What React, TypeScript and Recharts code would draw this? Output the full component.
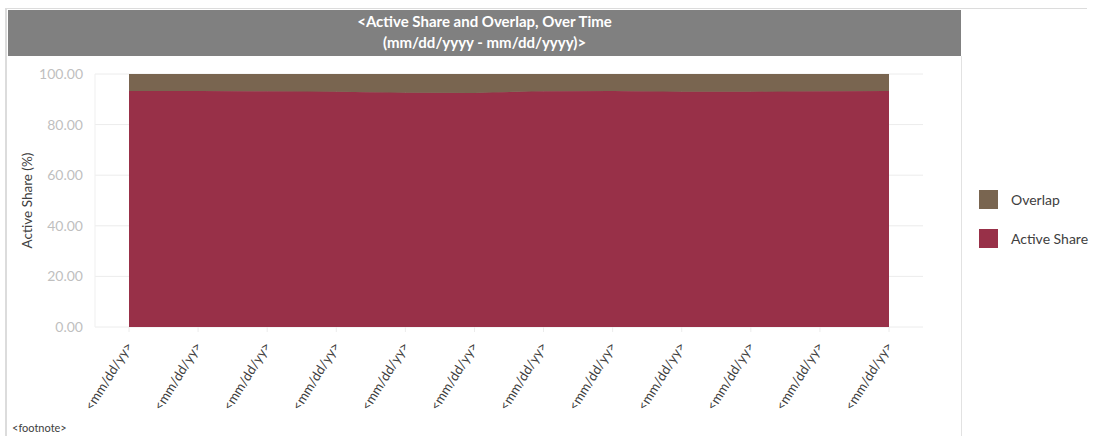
import { AreaChart, Area, XAxis, YAxis, CartesianGrid, Legend } from 'recharts'

const dates = ['<mm/dd/yy>', '<mm/dd/yy>', '<mm/dd/yy>', '<mm/dd/yy>', '<mm/dd/yy>', '<mm/dd/yy>',
  '<mm/dd/yy>', '<mm/dd/yy>', '<mm/dd/yy>', '<mm/dd/yy>', '<mm/dd/yy>', '<mm/dd/yy>']
const activeShare = [93.3, 93.3, 93.2, 93.0, 92.6, 92.5, 93.2, 93.3, 93.0, 93.0, 93.2, 93.3]
const overlap = [6.7, 6.7, 6.8, 7.0, 7.4, 7.5, 6.8, 6.7, 7.0, 7.0, 6.8, 6.7]
const yTicks = [0, 20, 40, 60, 80, 100]

const FONT = 'Lato, "Open Sans", sans-serif'
const RED = '#983048'
const BROWN = '#796550'

const data = dates.map((d, i) => ({ id: i, date: d, active: activeShare[i], overlap: overlap[i] }))

const DateTick = ({ x, y, payload }: any) => (
  <text transform={`translate(${x + 4},${y + 12}) rotate(-58)`} textAnchor="end"
    fontSize={13.3} fontFamily={FONT} fill="#404040">
    {dates[payload.value] ?? payload.value}
  </text>
)

const LegendBox = ({ payload }: any) => {
  const items = [...(payload ?? [])].reverse()
  return (
    <div style={{ fontFamily: FONT, fontSize: 14, color: '#404040' }}>
      {items.map((it: any) => (
        <div key={it.value} style={{ display: 'flex', alignItems: 'center', height: 19, marginBottom: 20 }}>
          <span style={{ width: 19, height: 19, background: it.color, display: 'inline-block', marginRight: 13 }} />
          {it.value}
        </div>
      ))}
    </div>
  )
}

export default function App() {
  return (
    <div style={{ position: 'absolute', left: 0, top: 0, width: 1093, height: 436, background: '#fff', overflow: 'hidden' }}>
      <div style={{ position: 'absolute', left: 5, top: 8, width: 1082, height: 1, background: '#dcdcdc' }} />
      <div style={{ position: 'absolute', left: 5, top: 8, width: 2, height: 428, background: '#dcdcdc' }} />
      <div style={{ position: 'absolute', left: 961, top: 56, width: 1, height: 380, background: '#e2e2e2' }} />
      <div style={{
        position: 'absolute', left: 8, top: 10, width: 953, height: 46, background: '#808080',
        color: '#fff', fontFamily: FONT, fontWeight: 700, fontSize: 15, lineHeight: '21px',
        textAlign: 'center', paddingTop: 1, boxSizing: 'border-box',
      }}>
        {'<Active Share and Overlap, Over Time'}<br />{'(mm/dd/yyyy - mm/dd/yyyy)>'}
      </div>
      <div style={{ position: 'absolute', left: 12, top: 421, fontFamily: FONT, fontSize: 11, color: '#404040' }}>
        {'<footnote>'}
      </div>
      <div style={{ position: 'absolute', left: 0, top: 0 }}>
        <AreaChart width={1093} height={436} data={data} margin={{ top: 74, right: 170, bottom: 9, left: 35 }}>
          <CartesianGrid stroke="#ececec" vertical={false} />
          <XAxis dataKey="id" type="category" padding={{ left: 34, right: 34 }} height={100}
            axisLine={false} tickLine={{ stroke: '#ececec' }} tickSize={5} interval={0} tick={<DateTick />} />
          <YAxis domain={[0, 100]} ticks={yTicks} width={60} tickFormatter={(v: number) => v.toFixed(2)}
            axisLine={{ stroke: '#efefef' }} tickLine={false} tickSize={0} tickMargin={12}
            tick={{ fill: '#bfbfbf', fontSize: 14, fontFamily: FONT }}
            label={{ value: 'Active Share (%)', angle: -90, position: 'insideLeft', dx: -13,
              style: { textAnchor: 'middle', fill: '#404040', fontSize: 13.5, fontFamily: FONT } }} />
          <YAxis yAxisId="r" orientation="right" width={0} domain={[0, 100]} tick={false} tickLine={false}
            axisLine={{ stroke: '#efefef' }} />
          <Legend layout="vertical" verticalAlign="middle" align="center" content={<LegendBox />}
            wrapperStyle={{ position: 'absolute', left: 979, top: 190, width: 114 }} />
          <Area type="linear" dataKey="active" name="Active Share" stackId="1" stroke={RED} strokeWidth={1}
            fill={RED} fillOpacity={1} isAnimationActive={false} />
          <Area type="linear" dataKey="overlap" name="Overlap" stackId="1" stroke="none"
            fill={BROWN} fillOpacity={1} isAnimationActive={false} />
        </AreaChart>
      </div>
    </div>
  )
}
